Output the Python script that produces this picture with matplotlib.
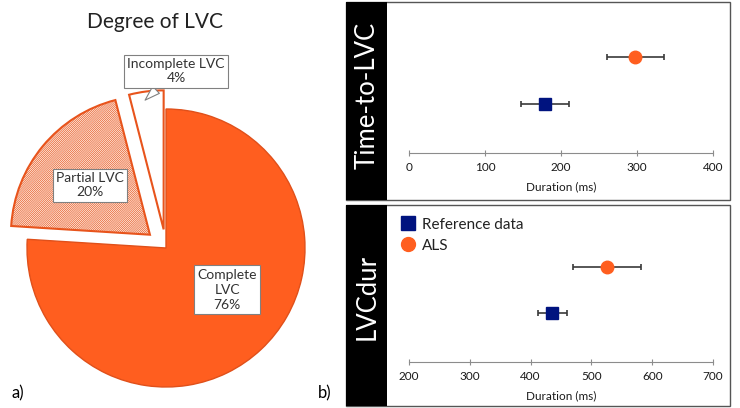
import matplotlib.pyplot as plt
from matplotlib.patches import Rectangle

plt.rcParams['font.family'] = ['Lato', 'DejaVu Sans']
plt.rcParams['hatch.linewidth'] = 0.45

# pie data
pie_labels = ['Complete\nLVC', 'Partial LVC', 'Incomplete LVC']
pie_values = [76, 20, 4]

# forest-style data (mean, half error)
groups = ['Reference data', 'ALS']
ttl_mean = [179, 298]
ttl_err = [31, 38]
dur_mean = [436, 526]
dur_err = [24, 56]

W, H = 740, 408
fig = plt.figure(figsize=(W / 100, H / 100), dpi=100)


def fx(px):
    return px / W


def fy(py):
    return 1 - py / H


orange = '#FF5E1F'
navy = '#00137F'

# ---- a) pie ----
R = 139.0
cx, cy = 166, 248
ax = fig.add_axes([0, 0, 330 / W, 1])
wedges, _ = ax.pie(pie_values, startangle=90, counterclock=False,
                   explode=[0, 0.15, 0.135], radius=1)
wedges[0].set(facecolor=orange, edgecolor='#E0501A', linewidth=1)
wedges[1].set(facecolor='#FDEEE6', edgecolor='#E8541C', linewidth=1.5, hatch='/' * 16)
wedges[2].set(facecolor='white', edgecolor='#E8541C', linewidth=1.5)
ax.set_aspect('auto')
ax.set_xlim(-cx / R, (330 - cx) / R)
ax.set_ylim(-(H - cy) / R, cy / R)

box = dict(boxstyle='square,pad=0.25', fc='white', ec='#808080', lw=0.8)
ax.text(0.44, -0.30, pie_labels[0] + '\n%d%%' % pie_values[0], ha='center', va='center',
        fontsize=10, color='#333333', bbox=box, linespacing=1.3)
ax.text(-0.547, 0.453, pie_labels[1] + '\n%d%%' % pie_values[1], ha='center', va='center',
        fontsize=10, color='#333333', bbox=box, linespacing=1.2)
ax.annotate(pie_labels[2] + '\n%d%%' % pie_values[2], xy=(-0.165, 1.05), xytext=(0.072, 1.273),
            ha='center', va='center', fontsize=10, color='#333333', bbox=box, linespacing=1.2,
            arrowprops=dict(arrowstyle='wedge,tail_width=0.7', fc='white', ec='#808080', lw=0.8))

fig.text(fx(155), fy(22), 'Degree of LVC', ha='center', va='center', fontsize=15, color='#222222')
fig.text(fx(12), fy(393), 'a)', ha='left', va='center', fontsize=12)
fig.text(fx(318), fy(393), 'b)', ha='left', va='center', fontsize=12)

# ---- b) panels ----
panels = [
    dict(top=2, bot=200, name='Time-to-LVC', tcy=95, axis_y=153, y_ref=104, y_als=57,
         mean=ttl_mean, err=ttl_err, xlim=(0, 400), ticks=[0, 100, 200, 300, 400]),
    dict(top=205, bot=406, name='LVCdur', tcy=297, axis_y=362, y_ref=313, y_als=267,
         mean=dur_mean, err=dur_err, xlim=(200, 700), ticks=[200, 300, 400, 500, 600, 700]),
]
bx0, bx1, band = 346, 730, 387
ax0, ax1 = 409, 713
for i, p in enumerate(panels):
    fig.patches.append(Rectangle((fx(bx0), fy(p['bot'])), fx(bx1 - bx0), (p['bot'] - p['top']) / H,
                                 transform=fig.transFigure, fc='white', ec='#555555', lw=1))
    fig.patches.append(Rectangle((fx(bx0), fy(p['bot'])), fx(band - bx0), (p['bot'] - p['top']) / H,
                                 transform=fig.transFigure, fc='black', ec='none'))
    fig.text(fx((bx0 + band) / 2 + 1), fy(p['tcy']), p['name'], rotation=90, ha='center', va='center',
             color='white', fontsize=18.5)

    step = p['y_ref'] - p['y_als']
    top_px = p['top'] + 3
    a = fig.add_axes([fx(ax0), fy(p['axis_y']), fx(ax1 - ax0), (p['axis_y'] - top_px) / H])
    a.set_zorder(5)
    a.patch.set_visible(False)
    a.set_ylim(1 - (p['axis_y'] - p['y_ref']) / step, 2 + (p['y_als'] - top_px) / step)
    a.set_xlim(*p['xlim'])
    a.set_xticks(p['ticks'])
    for s in ['left', 'top', 'right']:
        a.spines[s].set_visible(False)
    a.spines['bottom'].set_color('#8C8C8C')
    a.set_yticks([])
    a.tick_params(axis='x', direction='inout', length=5, color='#8C8C8C', labelsize=8.5,
                  labelcolor='#1A1A1A', pad=4)
    a.set_xlabel('Duration (ms)', fontsize=8.5, color='#1A1A1A', labelpad=6)
    a.errorbar(p['mean'][0], 1, xerr=p['err'][0], fmt='s', color=navy, ms=8,
               ecolor='#3A3A3A', elinewidth=1.2, capsize=2.5, capthick=1.2, label=groups[0])
    a.errorbar(p['mean'][1], 2, xerr=p['err'][1], fmt='o', color=orange, ms=9,
               ecolor='#3A3A3A', elinewidth=1.2, capsize=2.5, capthick=1.2, label=groups[1])
    if i == 1:
        h1 = plt.Line2D([], [], marker='s', ls='none', color=navy, ms=10)
        h2 = plt.Line2D([], [], marker='o', ls='none', color=orange, ms=10)
        leg = fig.legend([h1, h2], groups, loc='upper left', bbox_to_anchor=(fx(391), fy(210)),
                         frameon=False, fontsize=11, handletextpad=0.3, labelspacing=0.45,
                         borderpad=0, handlelength=1.2, labelcolor='#222222')
        leg.set_zorder(6)

fig.savefig('out.png', dpi=100)
